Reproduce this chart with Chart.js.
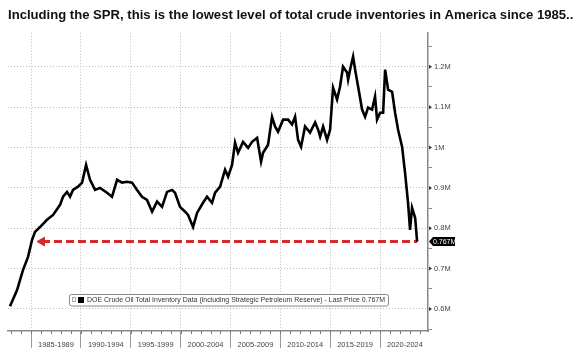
<!DOCTYPE html>
<html><head><meta charset="utf-8">
<script src="https://cdn.jsdelivr.net/npm/chart.js@4/dist/chart.umd.min.js"></script>
<style>html,body{margin:0;padding:0;background:#fff;}</style>
</head><body>
<canvas id="c" width="580" height="356"></canvas>
<script>
const titleText = "Including the SPR, this is the lowest level of total crude inventories in America since 1985..";
const seriesName = "DOE Crude Oil Total Inventory Data (including Strategic Petroleum Reserve) - Last Price 0.767M";

const years = [1982.89,1983.60,1983.90,1984.20,1984.70,1985.10,1985.40,1985.90,1986.60,1987.21,
1987.91,1988.21,1988.61,1988.91,1989.21,1989.71,1990.12,1990.52,1990.92,1991.42,
1991.92,1992.62,1993.12,1993.63,1994.13,1994.63,1995.13,1995.63,1996.13,1996.63,
1997.14,1997.64,1998.14,1998.64,1999.14,1999.44,1999.94,2000.45,2000.75,2001.25,
2001.65,2002.25,2002.65,2003.15,2003.46,2003.96,2004.46,2004.76,2005.16,2005.46,
2005.76,2006.26,2006.77,2007.17,2007.67,2008.07,2008.27,2008.77,2009.17,2009.47,
2009.77,2010.28,2010.78,2011.18,2011.48,2011.78,2012.08,2012.48,2012.98,2013.49,
2013.79,2013.99,2014.29,2014.69,2014.99,2015.29,2015.69,2015.99,2016.29,2016.69,
2016.80,2017.00,2017.30,2017.50,2017.80,2018.20,2018.50,2018.80,2019.20,2019.50,
2019.70,2020.01,2020.31,2020.51,2020.81,2021.21,2021.51,2021.81,2022.21,2022.51,
2022.81,2023.01,2023.21,2023.52,2023.72];

const inventory = [0.607,0.647,0.672,0.697,0.729,0.771,0.791,0.803,0.821,0.833,
0.858,0.878,0.890,0.878,0.895,0.903,0.913,0.957,0.920,0.895,
0.900,0.888,0.878,0.920,0.913,0.915,0.913,0.895,0.878,0.870,
0.841,0.866,0.853,0.890,0.895,0.888,0.853,0.841,0.833,0.803,
0.838,0.863,0.878,0.863,0.888,0.903,0.945,0.928,0.957,1.012,
0.987,1.014,0.999,1.014,1.024,0.965,0.987,1.007,1.076,1.052,
1.039,1.069,1.069,1.057,1.076,1.019,1.002,1.052,1.037,1.062,
1.044,1.027,1.052,1.019,1.044,1.148,1.119,1.151,1.200,1.186,
1.168,1.193,1.225,1.193,1.151,1.094,1.076,1.099,1.094,1.126,
1.069,1.086,1.086,1.193,1.143,1.138,1.086,1.044,1.002,0.937,
0.863,0.796,0.851,0.826,0.767];

const periodStarts = [1985,1990,1995,2000,2005,2010,2015,2020];
const periodLabels = ["1985-1989","1990-1994","1995-1999","2000-2004","2005-2009","2010-2014","2015-2019","2020-2024"];
const yTickValues = [0.55,0.6,0.65,0.7,0.75,0.8,0.85,0.9,0.95,1.0,1.05,1.1,1.15,1.2,1.25];
const lastValue = 0.767;
const lastLabel = "0.767M";
const arrowTipYear = 1986.1;

const xMin = 1982.69, xMax = 2024.81, yMin = 0.5455, yMax = 1.2843;
const FONT = '"Liberation Sans", Arial, sans-serif';

const isMajor = v => Math.abs(Math.round(v * 10) - v * 10) < 1e-6;
const fmtM = v => (Math.round(v * 10) / 10).toString() + 'M';
const periodMids = periodStarts.map(s => s + 2.5);

const decor = {
  id: 'decor',
  afterDraw(chart) {
    const {ctx, chartArea: ca, scales: {x, y}} = chart;
    ctx.save();
    ctx.strokeStyle = '#777'; ctx.lineWidth = 1;
    for (let yr = Math.ceil(xMin); yr <= Math.floor(xMax); yr++) {
      const px = Math.round(x.getPixelForValue(yr)) + 0.5;
      ctx.beginPath(); ctx.moveTo(px, ca.bottom); ctx.lineTo(px, ca.bottom + 3); ctx.stroke();
    }
    ctx.fillStyle = '#333';
    yTickValues.filter(isMajor).forEach(v => {
      const py = y.getPixelForValue(v);
      ctx.beginPath(); ctx.moveTo(ca.right + 1, py - 2); ctx.lineTo(ca.right + 4, py); ctx.lineTo(ca.right + 1, py + 2); ctx.closePath(); ctx.fill();
    });
    const ly = y.getPixelForValue(lastValue);
    const lx = ca.right;
    ctx.fillStyle = '#000';
    ctx.beginPath();
    ctx.moveTo(lx + 1, ly); ctx.lineTo(lx + 5, ly - 4.5); ctx.lineTo(lx + 27, ly - 4.5);
    ctx.lineTo(lx + 27, ly + 4.5); ctx.lineTo(lx + 5, ly + 4.5); ctx.closePath(); ctx.fill();
    ctx.fillStyle = '#fff'; ctx.font = '7px ' + FONT; ctx.textBaseline = 'middle'; ctx.textAlign = 'left';
    ctx.fillText(lastLabel, lx + 5, ly + 0.5);
    const bx = ca.left + 61, by = ca.bottom - 37, bw = 319, bh = 11.5;
    ctx.strokeStyle = '#888'; ctx.lineWidth = 1; ctx.fillStyle = '#fff';
    ctx.beginPath(); ctx.roundRect(bx + 0.5, by + 0.5, bw, bh, 2); ctx.fill(); ctx.stroke();
    ctx.strokeStyle = '#aaa'; ctx.strokeRect(bx + 3.5, by + 3.5, 3, 4);
    ctx.fillStyle = '#000'; ctx.fillRect(bx + 9, by + 3, 6, 6);
    ctx.fillStyle = '#333'; ctx.font = '7px ' + FONT; ctx.textBaseline = 'middle';
    ctx.fillText(seriesName, bx + 18, by + 6.5, 298);
    ctx.restore();
  }
};

new Chart(document.getElementById('c'), {
  type: 'line',
  data: {
    datasets: [
      {
        label: 'arrow',
        data: [{x: arrowTipYear, y: lastValue}, {x: years[years.length - 1], y: lastValue}],
        borderColor: '#d42a2a', backgroundColor: '#d42a2a', borderWidth: 3, borderDash: [8, 4],
        pointStyle: 'triangle', pointRotation: 270,
        pointRadius: ctx => ctx.dataIndex === 0 ? 5 : 0,
        pointBorderWidth: 1, order: 1
      },
      {
        label: seriesName,
        data: years.map((yr, i) => ({x: yr, y: inventory[i]})),
        borderColor: '#000', borderWidth: 2.6, pointRadius: 0, tension: 0, order: 0
      }
    ]
  },
  options: {
    responsive: false, animation: false, devicePixelRatio: 1,
    layout: {padding: {left: 8, right: 0, top: 0, bottom: 0}},
    plugins: {
      legend: {display: false}, tooltip: {enabled: false},
      title: {display: true, text: titleText, align: 'start', color: '#111',
        font: {size: 13.1, weight: 'bold', family: FONT}, padding: {top: 8, bottom: 9}}
    },
    scales: {
      x: {
        type: 'linear', position: 'bottom', min: xMin, max: xMax,
        afterBuildTicks: s => { s.ticks = periodMids.map(v => ({value: v})); },
        afterFit: s => { s.height = 25; },
        ticks: {callback: (v, i) => periodLabels[i], autoSkip: false, maxRotation: 0,
          padding: -8, color: '#444', font: {size: 7.5, family: FONT}},
        grid: {offset: true, color: '#bdbdbd', lineWidth: 1, tickColor: '#9a9a9a', tickLength: 17, tickBorderDash: []},
        border: {color: '#888', width: 1.5, dash: [1, 2]}
      },
      y: {
        type: 'linear', position: 'right', min: yMin, max: yMax,
        afterBuildTicks: s => { s.ticks = yTickValues.map(v => ({value: v})); },
        afterFit: s => { s.width = 152; },
        ticks: {callback: v => isMajor(v) ? fmtM(v) : '', autoSkip: false, padding: 2,
          color: '#444', font: {size: 7.5, family: FONT}},
        grid: {color: c => isMajor(c.tick.value) ? '#bdbdbd' : 'rgba(0,0,0,0)', lineWidth: 1,
          tickColor: c => isMajor(c.tick.value) ? 'rgba(0,0,0,0)' : '#888', tickLength: 4, tickBorderDash: []},
        border: {color: '#888', width: 1.5, dash: [1, 2]}
      }
    }
  },
  plugins: [decor]
});
</script>
</body></html>
